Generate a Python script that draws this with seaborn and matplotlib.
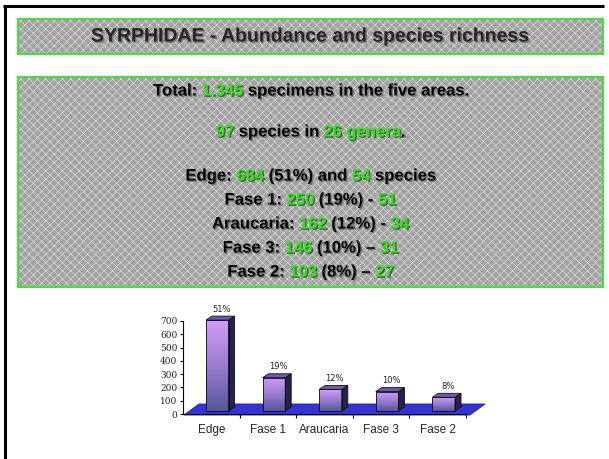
import numpy as np
import pandas as pd
import matplotlib
matplotlib.use("Agg")
import matplotlib.pyplot as plt
import matplotlib.patheffects as pe
from matplotlib.patches import Rectangle, Polygon
from matplotlib.colors import LinearSegmentedColormap
import seaborn as sns

# Data
areas = ["Edge", "Fase 1", "Araucaria", "Fase 3", "Fase 2"]
specimens = [684, 250, 162, 146, 103]
shares = ["51%", "19%", "12%", "10%", "8%"]
species = [54, 51, 34, 31, 27]
separators = [" - ", " - ", " \u2013 ", " \u2013 "]
total_specimens = "1.345"
total_species = "97"
total_genera = "26 genera"
title = "SYRPHIDAE - Abundance and species richness"
y_ticks = [0, 100, 200, 300, 400, 500, 600, 700]

W, H = 609, 459
CX = 310.5  # centre of the text boxes
GREEN = "#3ddc2a"
BLACK = "#000000"

sns.set_theme(style="ticks")
plt.rcParams["font.family"] = ["Liberation Sans", "DejaVu Sans"]
plt.rcParams["hatch.linewidth"] = 0.45

fig = plt.figure(figsize=(W / 100, H / 100), dpi=100)
fig.patch.set_facecolor("white")

# full-figure canvas in pixel units (y down)
bg = fig.add_axes([0, 0, 1, 1])
bg.set_xlim(0, W)
bg.set_ylim(H, 0)
bg.axis("off")

# slide edge: only top and left are visible
bg.plot([3, 604], [6, 6], color="black", lw=2.2, solid_capstyle="butt")
bg.plot([4.5, 4.5], [5, H], color="black", lw=2.2, solid_capstyle="butt")


def textured_box(x, y, w, h):
    bg.add_patch(Rectangle((x, y), w, h, fc="#a2a2a2", ec="#dedede", lw=0, hatch="xxxx"))
    bg.add_patch(Rectangle((x, y), w, h, fill=False, ec="#44e03a", lw=1.5))


textured_box(18, 19, 585, 35)
textured_box(18, 77, 585, 210)

renderer = fig.canvas.get_renderer()
shadow_k = [pe.withSimplePatchShadow(offset=(1, -1), shadow_rgbFace="#555555", alpha=0.6)]
shadow_g = [pe.withSimplePatchShadow(offset=(1, -1), shadow_rgbFace="#1a5a10", alpha=0.8)]


def width_of(s, **kw):
    t1 = bg.text(0, 0, s + "|", **kw)
    t2 = bg.text(0, 0, "|", **kw)
    w = t1.get_window_extent(renderer).width - t2.get_window_extent(renderer).width
    t1.remove()
    t2.remove()
    return w


def colored_line(parts, y, size=12):
    kw = dict(fontsize=size, fontweight="bold")
    widths = [width_of(s, **kw) for s, _ in parts]
    x = CX - sum(widths) / 2
    for (s, c), w in zip(parts, widths):
        bg.text(x, y, s, color=c, ha="left", va="center",
                path_effects=shadow_g if c == GREEN else shadow_k, **kw)
        x += w


bg.text(CX, 37, title, fontsize=14, fontweight="bold", ha="center", va="center",
        family=["Liberation Sans Narrow", "Liberation Sans"], path_effects=shadow_k)

colored_line([("Total: ", BLACK), (total_specimens, GREEN),
              (" specimens in the five areas.", BLACK)], 91)
colored_line([(total_species, GREEN), (" species in ", BLACK),
              (total_genera, GREEN), (".", BLACK)], 132)
colored_line([(areas[0] + ": ", BLACK), (str(specimens[0]), GREEN),
              (" (" + shares[0] + ") and ", BLACK), (str(species[0]), GREEN),
              (" species", BLACK)], 176)
for i in range(1, 5):
    colored_line([(areas[i] + ": ", BLACK), (str(specimens[i]), GREEN),
                  (" (" + shares[i] + ")" + separators[i - 1], BLACK),
                  (str(species[i]), GREEN)], 176 + 24 * i)

# bar chart
ax = fig.add_axes([183 / W, (H - 414) / H, 283 / W, 93 / H])
df = pd.DataFrame({"area": areas, "specimens": specimens})
sns.barplot(data=df, x="area", y="specimens", ax=ax, width=0.4, color="#b080e0")
ax.set_xlim(-0.5, 4.5)
ax.set_ylim(0, 700)
ax.patch.set_alpha(0)
ax.set_xlabel("")
ax.set_ylabel("")
sns.despine(ax=ax)
for s in ["left", "bottom"]:
    ax.spines[s].set_linewidth(0.8)
    ax.spines[s].set_color("black")
ax.set_yticks(y_ticks)
ax.set_yticklabels([str(v) for v in y_ticks], family="DejaVu Serif", fontsize=6.5, color="#222222")
ax.tick_params(axis="y", length=2.5, width=0.8, pad=1.5, color="black")
ax.set_xticks(range(len(areas)))
ax.set_xticklabels(areas, fontsize=8.5)
ax.set_xticks([0.5, 1.5, 2.5, 3.5, 4.5], minor=True)
ax.tick_params(axis="x", which="major", length=0, pad=7)
ax.tick_params(axis="x", which="minor", length=3, width=0.8, color="black")

# floor of the 3D chart
Xl, Y0 = ax.transData.transform((-0.5, 0))
Xr, _ = ax.transData.transform((4.5, 0))
fy = H - Y0 + 1
fdx, fdy = 15, 11
bg.add_patch(Polygon([(Xl + 1, fy), (Xr + 4, fy), (Xr + 4 + fdx, fy - fdy), (Xl + 1 + fdx, fy - fdy)],
                     closed=True, fc="#3434d4", ec="#20208a", lw=0.6, zorder=2))

front_cmap = LinearSegmentedColormap.from_list("front", ["#cf9cf8", "#9a7cd0", "#56569a"])
sx, sy = 6, 3
dx, dy = 6, 4
for p, lab in zip(ax.patches, shares):
    x0, w, h = p.get_x(), p.get_width(), p.get_height()
    X0, Yb = ax.transData.transform((x0, 0))
    X1, Yt = ax.transData.transform((x0 + w, h))
    left, right = X0 + sx, X1 + sx
    bottom, top = H - Yb - sy, H - Yt - sy
    p.set_visible(False)
    grad = np.linspace(0, 1, 64).reshape(-1, 1)
    bg.imshow(grad, cmap=front_cmap, extent=(left, right, bottom, top), origin="upper",
              aspect="auto", zorder=3, interpolation="bilinear")
    side = Polygon([(right, top), (right + dx, top - dy), (right + dx, bottom - dy), (right, bottom)],
                   closed=True, fc="#24244a", ec="#0c0c1c", lw=0.6, zorder=4)
    bg.add_patch(side)
    topf = Polygon([(left, top), (left + dx, top - dy), (right + dx, top - dy), (right, top)],
                   closed=True, fc="#6c5ca8", ec="#0c0c1c", lw=0.6, zorder=4)
    bg.add_patch(topf)
    bg.add_patch(Rectangle((left, top), right - left, bottom - top, fill=False,
                           ec="#0c0c1c", lw=0.6, zorder=4))
    bg.text((left + right) / 2 + 4, top - 11, lab, fontsize=6, family="DejaVu Sans",
            color="#202020", ha="center", va="center", zorder=5)

fig.savefig("out.png", dpi=100)
